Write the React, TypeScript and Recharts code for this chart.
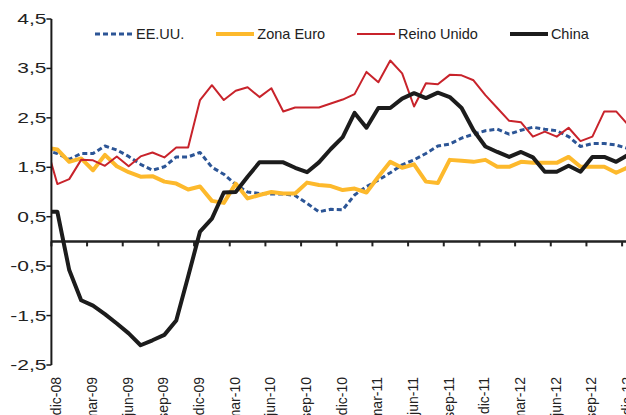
import React from 'react';
import { LineChart, Line, XAxis, YAxis, ReferenceLine, Legend } from 'recharts';

const FONT = '"Liberation Sans", Arial, sans-serif';

// nov-08 only feeds the short stub that is clipped at the vertical axis
const months = [
    'nov-08', 'dic-08', 'ene-09', 'feb-09', 'mar-09', 'abr-09', 'may-09', 'jun-09', 'jul-09', 'ago-09',
    'sep-09', 'oct-09', 'nov-09', 'dic-09', 'ene-10', 'feb-10', 'mar-10', 'abr-10', 'may-10', 'jun-10',
    'jul-10', 'ago-10', 'sep-10', 'oct-10', 'nov-10', 'dic-10', 'ene-11', 'feb-11', 'mar-11', 'abr-11',
    'may-11', 'jun-11', 'jul-11', 'ago-11', 'sep-11', 'oct-11', 'nov-11', 'dic-11', 'ene-12', 'feb-12',
    'mar-12', 'abr-12', 'may-12', 'jun-12', 'jul-12', 'ago-12', 'sep-12', 'oct-12', 'nov-12', 'dic-12',
];

const eeuu = [
    1.84, 1.78, 1.66, 1.78, 1.78, 1.93, 1.85, 1.72, 1.56, 1.44,
    1.51, 1.71, 1.71, 1.80, 1.50, 1.36, 1.15, 1.0, 0.97, 0.96,
    0.96, 0.93, 0.77, 0.60, 0.65, 0.64, 0.94, 1.11, 1.24, 1.39,
    1.55, 1.65, 1.78, 1.93, 1.97, 2.09, 2.17, 2.24, 2.27, 2.17,
    2.25, 2.31, 2.27, 2.24, 2.12, 1.92, 1.98, 1.98, 1.95, 1.88,
];

const zonaEuro = [
    1.9, 1.86, 1.61, 1.68, 1.44, 1.75, 1.52, 1.40, 1.31, 1.32,
    1.21, 1.17, 1.05, 1.11, 0.82, 0.78, 1.17, 0.87, 0.94, 1.0,
    0.97, 0.97, 1.19, 1.14, 1.12, 1.04, 1.07, 0.99, 1.31, 1.61,
    1.49, 1.56, 1.21, 1.18, 1.65, 1.63, 1.61, 1.65, 1.51, 1.51,
    1.61, 1.59, 1.59, 1.59, 1.71, 1.51, 1.51, 1.51, 1.39, 1.5,
];

const reinoUnido = [
    2.0, 1.16, 1.26, 1.65, 1.64, 1.53, 1.72, 1.52, 1.72, 1.80,
    1.70, 1.90, 1.90, 2.86, 3.16, 2.86, 3.05, 3.12, 2.92, 3.10,
    2.63, 2.71, 2.71, 2.71, 2.79, 2.87, 2.98, 3.43, 3.22, 3.66,
    3.40, 2.73, 3.20, 3.18, 3.37, 3.36, 3.26, 2.96, 2.70, 2.44,
    2.41, 2.12, 2.22, 2.12, 2.30, 2.03, 2.12, 2.63, 2.63, 2.36,
];

const china = [
    0.6, 0.6, -0.58, -1.19, -1.30, -1.47, -1.66, -1.86, -2.10, -2.0,
    -1.89, -1.60, -0.71, 0.2, 0.46, 0.99, 1.0, 1.31, 1.6, 1.6,
    1.6, 1.49, 1.4, 1.6, 1.87, 2.11, 2.6, 2.3, 2.7, 2.7,
    2.89, 3.0, 2.9, 3.01, 2.92, 2.7, 2.25, 1.92, 1.81, 1.71,
    1.81, 1.70, 1.41, 1.41, 1.53, 1.41, 1.71, 1.71, 1.61, 1.75,
];

const labelMonths = [
    'dic-08', 'mar-09', 'jun-09', 'sep-09', 'dic-09', 'mar-10', 'jun-10', 'sep-10', 'dic-10',
    'mar-11', 'jun-11', 'sep-11', 'dic-11', 'mar-12', 'jun-12', 'sep-12', 'dic-12',
];

const yTicks = [-2.5, -1.5, -0.5, 0.5, 1.5, 2.5, 3.5, 4.5];

const series = [
    { key: 'eeuu', name: 'EE.UU.', color: '#2c5596', width: 3, dash: '5 3' },
    { key: 'zonaEuro', name: 'Zona Euro', color: '#fdb92c', width: 4 },
    { key: 'reinoUnido', name: 'Reino Unido', color: '#c8232b', width: 2 },
    { key: 'china', name: 'China', color: '#1c1c1c', width: 4 },
];

// k = month index, dic-08 = 0
const data = months.map((m, i) => ({
    k: i - 1,
    m,
    eeuu: eeuu[i],
    zonaEuro: zonaEuro[i],
    reinoUnido: reinoUnido[i],
    china: china[i],
}));

const labelTicks = labelMonths.map((m) => months.indexOf(m) - 1);
const boundaryTicks = labelTicks.map((k) => k - 0.5); // tick marks sit between categories

const MonthTick = ({ x, y, payload }: any) => {
    const ty = y + 4;
    return (
        <text
            x={x}
            y={ty}
            dy={4}
            transform={`rotate(-90 ${x} ${ty})`}
            textAnchor="end"
            fontFamily={FONT}
            fontSize={14}
            fill="#222"
        >
            {months[payload.value + 1]}
        </text>
    );
};

// the value labels in the original are drawn wide, so stretch them sideways
const ValueTick = ({ x, y, payload }: any) => (
    <g transform={`translate(${x},${y}) scale(1.5,1)`}>
        <text x={0} y={0} dy="0.36em" textAnchor="end" fontFamily={FONT} fontSize={14} fill="#222">
            {payload.value.toFixed(1).replace('.', ',')}
        </text>
    </g>
);

const LegendContent = () => (
    <div style={{ display: 'flex', fontFamily: FONT, fontSize: 14.5, color: '#222', whiteSpace: 'nowrap' }}>
        {series.map((s) => (
            <div key={s.key} style={{ display: 'flex', alignItems: 'center', marginRight: 32 }}>
                <svg width={38} height={8}>
                    <line x1={0} y1={4} x2={38} y2={4} stroke={s.color} strokeWidth={s.width} strokeDasharray={s.dash} />
                </svg>
                <span style={{ marginLeft: 3 }}>{s.name}</span>
            </div>
        ))}
    </div>
);

export default function App() {
    return (
        <div style={{ width: 626, height: 415, overflow: 'hidden', position: 'relative', background: '#fff' }}>
            <style>{'body{margin:0}'}</style>
            <LineChart width={640} height={415} data={data} margin={{ top: 19, right: 6, bottom: 0, left: 0 }}>
                <XAxis
                    dataKey="k"
                    type="number"
                    domain={[-0.5, 48.5]}
                    allowDataOverflow
                    ticks={labelTicks}
                    interval={0}
                    tick={<MonthTick />}
                    axisLine={false}
                    tickLine={false}
                    height={50}
                />
                <YAxis
                    type="number"
                    domain={[-2.5, 4.5]}
                    ticks={yTicks}
                    interval={0}
                    width={51.4}
                    axisLine={{ stroke: '#1a1a1a', strokeWidth: 2 }}
                    tickLine={{ stroke: '#1a1a1a', strokeWidth: 1.5 }}
                    tickSize={5}
                    tickMargin={0}
                    tick={<ValueTick />}
                />
                <ReferenceLine y={0} stroke="#222" strokeWidth={2.5} />
                {boundaryTicks.map((b) => (
                    <ReferenceLine
                        key={b}
                        segment={[{ x: b, y: 0 }, { x: b, y: -0.1 }]}
                        stroke="#222"
                        strokeWidth={2}
                    />
                ))}
                {series.map((s) => (
                    <Line
                        key={s.key}
                        dataKey={s.key}
                        name={s.name}
                        type="linear"
                        stroke={s.color}
                        strokeWidth={s.width}
                        strokeDasharray={s.dash}
                        strokeLinejoin="round"
                        dot={false}
                        activeDot={false}
                        isAnimationActive={false}
                    />
                ))}
                <Legend
                    layout="horizontal"
                    verticalAlign="middle"
                    align="center"
                    content={() => <LegendContent />}
                    wrapperStyle={{ top: 26, left: 95, width: 'auto', height: 'auto' }}
                />
            </LineChart>
        </div>
    );
}
